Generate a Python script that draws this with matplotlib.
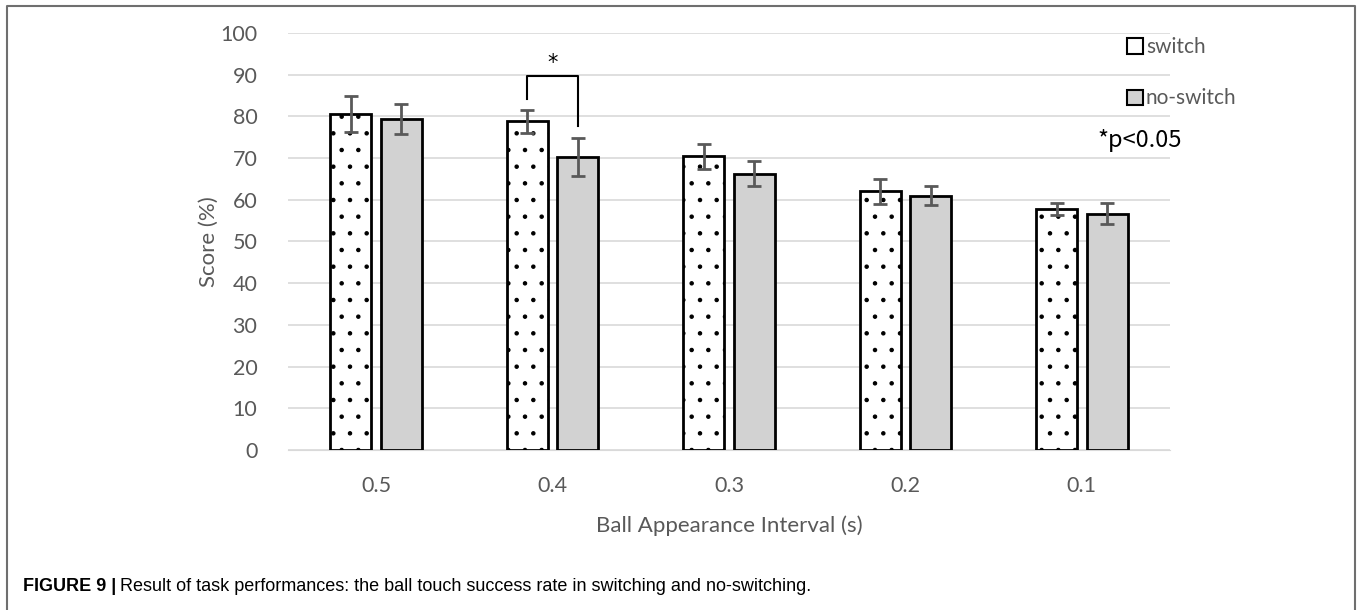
import numpy as np
import matplotlib.pyplot as plt
from matplotlib.patches import Patch
from matplotlib.lines import Line2D

# data
intervals = ["0.5", "0.4", "0.3", "0.2", "0.1"]
switch = [80.5, 78.8, 70.5, 62.0, 57.8]
switch_err = [4.3, 2.8, 3.0, 3.0, 1.5]
noswitch = [79.4, 70.2, 66.3, 61.0, 56.7]
noswitch_err = [3.6, 4.6, 3.0, 2.2, 2.6]

tick_font = ["Lato", "DejaVu Sans"]
grey_txt = "#595959"

fig = plt.figure(figsize=(13.58, 6.10), dpi=100)
ax = fig.add_axes([0.212, 0.2623, 0.6496, 0.6836])

x = np.arange(len(intervals))
w = 0.232
off = 0.143

plt.rcParams["hatch.linewidth"] = 0.8
ax.bar(x - off, switch, w, color="white", edgecolor="black", linewidth=2,
       hatch=".", zorder=3)
ax.bar(x + off, noswitch, w, color="#d2d2d2", edgecolor="black", linewidth=2,
       zorder=3)
ax.errorbar(x - off, switch, yerr=switch_err, fmt="none", ecolor=grey_txt,
            elinewidth=2, capsize=5, capthick=2, zorder=4)
ax.errorbar(x + off, noswitch, yerr=noswitch_err, fmt="none", ecolor=grey_txt,
            elinewidth=2, capsize=5, capthick=2, zorder=4)

# significance bracket for 0.4
ax.plot([1 - off, 1 - off, 1 + off, 1 + off], [84.2, 89.7, 89.7, 77.7],
        color="black", lw=1.5, zorder=5)
ax.text(1, 90.3, "*", ha="center", va="bottom", fontsize=15, color="black")

ax.set_xlim(-0.5, len(intervals) - 0.5)
ax.set_ylim(0, 100)
ax.set_yticks(np.arange(0, 101, 10))
ax.set_xticks(x)
ax.set_xticklabels(intervals)
ax.yaxis.grid(True, color="#d9d9d9", lw=1.2)
ax.set_axisbelow(True)
for s in ax.spines.values():
    s.set_visible(False)
ax.spines["bottom"].set_visible(True)
ax.spines["bottom"].set_color("#d9d9d9")
ax.tick_params(length=0, labelsize=15.5, labelcolor=grey_txt)
for lab in ax.get_xticklabels() + ax.get_yticklabels():
    lab.set_family(tick_font)
ax.tick_params(axis="x", pad=19)
ax.tick_params(axis="y", pad=22)

ax.set_ylabel("Score (%)", fontsize=16, color=grey_txt, family=tick_font,
              labelpad=1)
ax.set_xlabel("Ball Appearance Interval (s)", fontsize=16, color=grey_txt,
              family=tick_font, labelpad=14)

handles = [Patch(facecolor="white", edgecolor="black", lw=1.5),
           Patch(facecolor="#d2d2d2", edgecolor="black", lw=1.5)]
leg = ax.legend(handles, ["switch", "no-switch"], loc="upper left",
                bbox_to_anchor=(0.93, 1.035), frameon=False,
                handlelength=0.75, handleheight=0.75, handletextpad=0.15,
                labelspacing=1.5, prop={"family": tick_font, "size": 15})
for t in leg.get_texts():
    t.set_color(grey_txt)
ax.text(0.918, 0.743, "*p<0.05", transform=ax.transAxes, fontsize=17,
        color="black", family=["Noto Sans CJK JP", "DejaVu Sans"],
        ha="left", va="center")

# outer frame (open at the bottom)
fig.add_artist(Line2D([0.0055, 0.0055, 0.9975, 0.9975], [0.0, 0.99, 0.99, 0.0],
                      transform=fig.transFigure, color="#6f6f6f", lw=1.5))

cap_font = ["Liberation Sans Narrow", "Liberation Sans", "DejaVu Sans"]
t1 = fig.text(0.017, 0.039, "FIGURE 9 |", fontsize=13, weight="bold",
              family=cap_font, va="center")
fig.canvas.draw()
bb = t1.get_window_extent()
x1 = fig.transFigure.inverted().transform((bb.x1, 0))[0]
fig.text(x1 + 0.003, 0.039,
         "Result of task performances: the ball touch success rate in "
         "switching and no-switching.", fontsize=13, family=cap_font,
         va="center")

plt.savefig("out.png", dpi=100)
